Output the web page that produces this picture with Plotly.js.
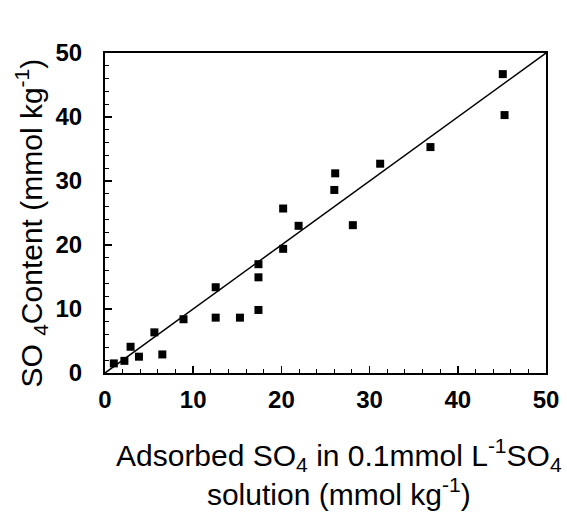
<!DOCTYPE html>
<html><head><meta charset="utf-8">
<script src="https://cdn.plot.ly/plotly-3.0.1.min.js"></script>
<style>html,body{margin:0;padding:0;background:#fff}</style>
</head><body>
<div id="chart" style="width:567px;height:523px"></div>
<script>
const adsorbedX = [1.0, 2.2, 2.9, 3.85, 5.6, 6.5, 8.9, 12.55, 12.55, 15.3, 17.4, 17.4, 17.4, 20.2, 20.2, 21.95, 26.1, 26.0, 28.1, 31.2, 36.9, 45.1, 45.3];
const contentY  = [1.5, 1.9, 4.1, 2.55, 6.35, 2.9, 8.4, 13.4, 8.65, 8.65, 17.0, 14.95, 9.85, 25.7, 19.4, 23.0, 31.2, 28.6, 23.1, 32.7, 35.3, 46.7, 40.3];
const fitX = [0, 50];
const fitY = [0, 50];
const tickVals = [0, 10, 20, 30, 40, 50];
const tickText = ['0', '10', '20', '30', '40', '50'];
const xTitle = 'Adsorbed SO<sub>4</sub> in 0.1mmol L<sup>-1</sup>SO<sub>4</sub><br>solution (mmol kg<sup>-1</sup>)';
const yTitle = 'SO <sub>4</sub>Content (mmol kg<sup>-1</sup>)';

const font = '"Liberation Sans", Arial, Helvetica, sans-serif';
const axisCommon = {
  range: [0, 50], showgrid: false, zeroline: false,
  showline: true, linecolor: '#000', linewidth: 2, mirror: true,
  ticks: 'inside', ticklen: 7, tickwidth: 1.5, tickcolor: '#000',
  tickvals: tickVals, ticktext: tickText,
  minor: {ticks: 'inside', ticklen: 4, tickwidth: 1, tickcolor: '#000', dtick: 2, tick0: 0},
  tickfont: {family: font, size: 24, color: '#000', weight: 'bold'}
};
const data = [
  {x: fitX, y: fitY, mode: 'lines', line: {color: '#000', width: 1.5}, hoverinfo: 'skip', showlegend: false},
  {x: adsorbedX, y: contentY, mode: 'markers', marker: {symbol: 'square', size: 8, color: '#000'}, showlegend: false}
];
const layout = {
  width: 567, height: 523,
  margin: {l: 105, r: 21, t: 53, b: 150},
  paper_bgcolor: '#fff', plot_bgcolor: '#fff',
  xaxis: Object.assign({}, axisCommon, {ticklabelstandoff: 4}),
  yaxis: Object.assign({}, axisCommon, {ticklabelstandoff: 16}),
  annotations: [
    {text: xTitle, xref: 'paper', yref: 'paper', x: 0.53, y: -0.183, xanchor: 'center', yanchor: 'top', showarrow: false,
     font: {family: font, size: 30, color: '#000'}, align: 'center'},
    {text: yTitle, xref: 'paper', yref: 'paper', x: -0.168, y: 0.47, xanchor: 'center', yanchor: 'middle', showarrow: false,
     textangle: -90, font: {family: font, size: 30, color: '#000'}}
  ]
};
Plotly.newPlot('chart', data, layout, {displayModeBar: false, staticPlot: true});
</script>
</body></html>
